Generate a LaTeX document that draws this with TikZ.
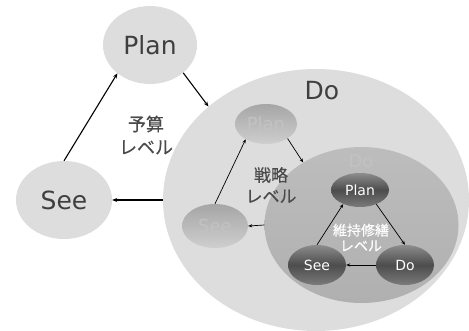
\documentclass[tikz,border=0pt]{standalone}
\usepackage{fontspec}
\setmainfont{DejaVu Sans}
\newfontfamily\jp[FakeBold=0.25]{Noto Sans CJK JP}
\usetikzlibrary{shapes.geometric,arrows.meta}
\definecolor{lightfill}{HTML}{DDDDDD}
\definecolor{txt}{HTML}{3F3F3F}
\definecolor{jptxt}{HTML}{4A4A4A}
\tikzset{
  ell/.style={ellipse, inner sep=0pt, draw=none},
  topell/.style={ell, fill=lightfill, text=txt, font=\fontsize{25}{30}\selectfont},
  midell/.style={ell, top color=black!35, bottom color=black!19, text=black!24, font=\fontsize{18}{21}\selectfont},
  innell/.style={ell, top color=black!45, bottom color=black!52, middle color=black!70, text=white, font=\fontsize{14}{17}\selectfont},
  arr/.style={-{Stealth[length=5pt,width=4pt]}, line width=1.1pt, black},
  arrs/.style={-{Stealth[length=4pt,width=3.2pt]}, line width=0.7pt, black},
  lvl/.style={align=center, inner sep=0pt},
}
\begin{document}
\begin{tikzpicture}[x=1pt,y=-1pt]
\useasboundingbox (0,0) rectangle (469,331);
% top level
\node[ell, fill=lightfill, minimum width=306pt, minimum height=262pt] (bigdo) at (316,200) {};
\node[text=txt, font=\fontsize{25}{30}\selectfont, inner sep=0pt] (dolbl) at (322,91) {Do};
\node[topell, minimum width=94pt, minimum height=78pt] (plan) at (150,45) {Plan};
\node[topell, minimum width=96pt, minimum height=78pt] (see) at (64,200) {See};
\node[lvl, text=jptxt, font=\jp\fontsize{18}{23}\selectfont] (lv1) at (146,135) {予算\\レベル};
% middle level
\node[ell, top color=black!26, bottom color=black!31, minimum width=194pt, minimum height=156pt] (do2) at (361.5,225) {};
\node[text=black!24, font=\fontsize{18}{21}\selectfont, inner sep=0pt] (do2lbl) at (361,161) {Do};
\node[midell, minimum width=62pt, minimum height=40pt] (plan2) at (266,124) {Plan};
\node[midell, minimum width=66pt, minimum height=44pt] (see2) at (215,226) {See};
\node[lvl, text=jptxt, font=\jp\fontsize{17}{21}\selectfont] (lv2) at (271,185) {戦略\\レベル};
% inner level
\node[innell, minimum width=58pt, minimum height=34pt] (plan3) at (360,190) {Plan};
\node[innell, minimum width=58pt, minimum height=40pt] (see3) at (317,265) {See};
\node[innell, minimum width=58pt, minimum height=40pt] (do3) at (405,265) {Do};
\node[lvl, text=white, font=\jp\fontsize{14}{15.5}\selectfont] (lv3) at (361,237.5) {維持修繕\\レベル};
% arrows
\draw[arr] (see.north) -- (plan.221);
\draw[arr] (plan.320) -- (bigdo.139.5);
\draw[arr] (bigdo.west) -- (see.east);
\draw[arrs] (see2.north) -- (plan2.217);
\draw[arrs] (plan2.326) -- (do2.133);
\draw[arrs] (do2.west) -- (see2.east);
\draw[arrs] (see3.north) -- (plan3.220);
\draw[arrs] (plan3.319) -- (do3.north);
\draw[arrs] (do3.west) -- (see3.east);
\end{tikzpicture}
\end{document}
